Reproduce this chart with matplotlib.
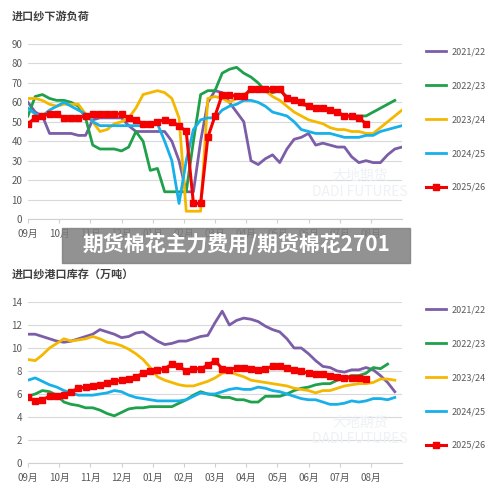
import matplotlib.pyplot as plt
import numpy as np

plt.rcParams['font.family'] = ['Noto Sans CJK SC', 'DejaVu Sans']

months = ['09月', '10月', '11月', '12月', '01月', '02月', '03月', '04月', '05月', '06月', '07月', '08月']
labels = ['2021/22', '2022/23', '2023/24', '2024/25', '2025/26']
colors = ['#7b5ea7', '#1fa04a', '#f5b800', '#18b0e8', '#f50000']

# 进口纱下游负荷 (weekly)
load_2122 = [60, 55, 53, 44, 44, 44, 44, 43, 43, 51, 52, 52, 52, 52, 48, 45, 45, 45, 45, 45, 40, 30, 14, 14, 40,
             60, 66, 65, 60, 55, 50, 30, 28, 31, 33, 29, 36, 41, 42, 44, 38, 39, 38, 37, 37, 32, 29, 30, 29, 29, 33, 36, 37]
load_2223 = [53, 63, 64, 62, 61, 61, 60, 58, 52, 38, 36, 36, 36, 35, 37, 45, 40, 25, 26, 14, 14, 14, 14, 40, 64,
             66, 66, 75, 77, 78, 75, 73, 70, 66, 65, 66, 63, 61, 59, 58, 57, 57, 56, 55, 53, 53, 53, 53, 55, 57, 59, 61]
load_2324 = [62, 62, 61, 59, 58, 59, 59, 59, 54, 50, 45, 46, 49, 50, 52, 57, 64, 65, 66, 65, 62, 52, 4, 4, 4,
             62, 63, 62, 60, 62, 64, 66, 66, 66, 63, 61, 58, 55, 53, 51, 50, 49, 47, 46, 46, 45, 45, 44, 44, 47, 50, 53, 56]
load_2425 = [57, 54, 53, 56, 58, 60, 58, 56, 54, 50, 48, 48, 48, 48, 48, 48, 48, 49, 49, 40, 30, 8, 30, 46, 51,
             52, 52, 56, 58, 59, 61, 61, 60, 58, 55, 54, 53, 50, 46, 45, 44, 44, 44, 43, 42, 42, 42, 43, 43, 45, 46, 47, 48]
load_2526 = [49, 52, 53, 54, 54, 52, 52, 52, 53, 54, 54, 54, 54, 54, 52, 51, 49, 49, 50, 51, 50, 48, 45, 8, 8,
             42, 53, 64, 64, 63, 63, 67, 67, 67, 67, 67, 62, 61, 60, 58, 57, 57, 56, 55, 53, 53, 52, 49]

# 进口纱港口库存 (万吨)
stock_2122 = [11.2, 11.2, 11.0, 10.8, 10.6, 10.5, 10.6, 10.8, 11.0, 11.2, 11.6, 11.4, 11.2, 10.9, 11.0, 11.3, 11.4,
              11.0, 10.6, 10.3, 10.4, 10.6, 10.6, 10.8, 11.0, 11.1, 12.2, 13.2, 12.0, 12.4, 12.6, 12.5, 12.3, 11.9,
              11.6, 11.4, 10.8, 10.0, 10.0, 9.5, 8.9, 8.4, 8.3, 8.0, 7.9, 8.1, 8.1, 8.3, 8.1, 7.6, 7.0, 6.2]
stock_2223 = [5.8, 6.0, 6.3, 6.2, 5.9, 5.3, 5.1, 5.0, 4.8, 4.8, 4.6, 4.3, 4.1, 4.4, 4.7, 4.8, 4.8, 4.9, 4.9, 4.9,
              4.9, 5.2, 5.5, 5.9, 6.2, 6.0, 5.9, 5.7, 5.7, 5.5, 5.5, 5.3, 5.3, 5.8, 5.8, 5.8, 6.0, 6.3, 6.5, 6.6,
              6.8, 6.9, 6.9, 7.2, 7.4, 7.6, 7.6, 7.8, 8.3, 8.2, 8.6]
stock_2324 = [9.0, 8.9, 9.4, 10.0, 10.4, 10.8, 10.6, 10.7, 10.8, 11.0, 10.8, 10.5, 10.4, 10.2, 9.9, 9.5, 9.0, 8.3,
              7.5, 7.2, 7.0, 6.8, 6.7, 6.7, 6.9, 7.1, 7.4, 7.8, 7.9, 7.7, 7.5, 7.2, 7.1, 7.0, 6.9, 6.8, 6.7, 6.5,
              6.4, 6.3, 6.1, 6.3, 6.3, 6.5, 6.7, 6.8, 6.9, 6.9, 7.0, 7.3, 7.3, 7.2]
stock_2425 = [7.2, 7.4, 7.1, 6.8, 6.6, 6.3, 6.1, 5.9, 5.9, 5.9, 6.0, 6.1, 6.3, 6.2, 5.9, 5.7, 5.6, 5.5, 5.4, 5.4,
              5.4, 5.4, 5.5, 5.8, 6.1, 6.0, 6.0, 6.2, 6.4, 6.5, 6.4, 6.4, 6.6, 6.5, 6.3, 6.2, 6.0, 5.8, 5.6, 5.5,
              5.5, 5.3, 5.1, 5.1, 5.2, 5.4, 5.3, 5.4, 5.6, 5.6, 5.5, 5.7]
stock_2526 = [5.7, 5.4, 5.5, 5.8, 5.8, 5.9, 6.2, 6.5, 6.6, 6.7, 6.8, 7.0, 7.1, 7.2, 7.3, 7.5, 7.8, 8.0, 8.1, 8.2,
              8.6, 8.4, 8.0, 8.2, 8.2, 8.5, 8.9, 8.2, 8.1, 8.3, 8.3, 8.2, 8.1, 8.2, 8.4, 8.4, 8.3, 8.1, 8.0, 7.8,
              7.7, 7.7, 7.6, 7.5, 7.4, 7.4, 7.4, 7.3]

fig = plt.figure(figsize=(5, 4.92), dpi=100)
W, H = 500, 492


def panel(top, bottom, title, title_y, series, ymax, ystep):
    ax = fig.add_axes([28 / W, 1 - bottom / H, 374 / W, (bottom - top) / H])
    for i, ys in enumerate(series):
        x = np.arange(len(ys))
        if i == 4:
            ax.plot(x, ys, color=colors[i], lw=2.2, marker='s', ms=4, label=labels[i])
        else:
            ax.plot(x, ys, color=colors[i], lw=2, label=labels[i])
    ax.set_xlim(0, 52)
    ax.set_ylim(0, ymax)
    ax.set_yticks(np.arange(0, ymax + 1, ystep))
    ax.set_xticks(np.arange(12) * 52 / 12)
    ax.set_xticklabels(months)
    ax.grid(axis='y', color='#d9d9d9', lw=0.8)
    ax.set_axisbelow(True)
    for s in ['top', 'right', 'left']:
        ax.spines[s].set_visible(False)
    ax.spines['bottom'].set_color('#d0d0d0')
    ax.tick_params(length=0, labelsize=7, colors='#595959', pad=4)
    ax.tick_params(axis='x', length=3, color='#d0d0d0')
    fig.text(12 / W, 1 - title_y / H, title, fontsize=8, fontweight='bold', color='#404040', va='center')
    fig.text(0.72, 1 - (top + (bottom - top) * 0.8) / H, '大地期货\nDADI FUTURES', fontsize=10,
             color='#eef1f5', ha='center', va='center', zorder=0)
    ax.legend(loc='upper left', bbox_to_anchor=(1.055, 1.0), frameon=False, fontsize=6.5,
              labelspacing=2.75, handlelength=2.2, handletextpad=0.6, borderaxespad=0,
              labelcolor='#595959')
    return ax


panel(44, 219, '进口纱下游负荷', 16, [load_2122, load_2223, load_2324, load_2425, load_2526], 90, 10)
panel(302, 463, '进口纱港口库存（万吨）', 275, [stock_2122, stock_2223, stock_2324, stock_2425, stock_2526], 14, 2)

# banner overlay
fig.patches.append(plt.Rectangle((62 / W, 1 - 263 / H), 348 / W, 35 / H, transform=fig.transFigure,
                                 color='#7f7f7f', alpha=0.85, zorder=5))
fig.text(236 / W, 1 - 245 / H, '期货棉花主力费用/期货棉花2701', fontsize=15, fontweight='bold',
         color='white', ha='center', va='center', zorder=6)

fig.savefig('out.png', dpi=100)
